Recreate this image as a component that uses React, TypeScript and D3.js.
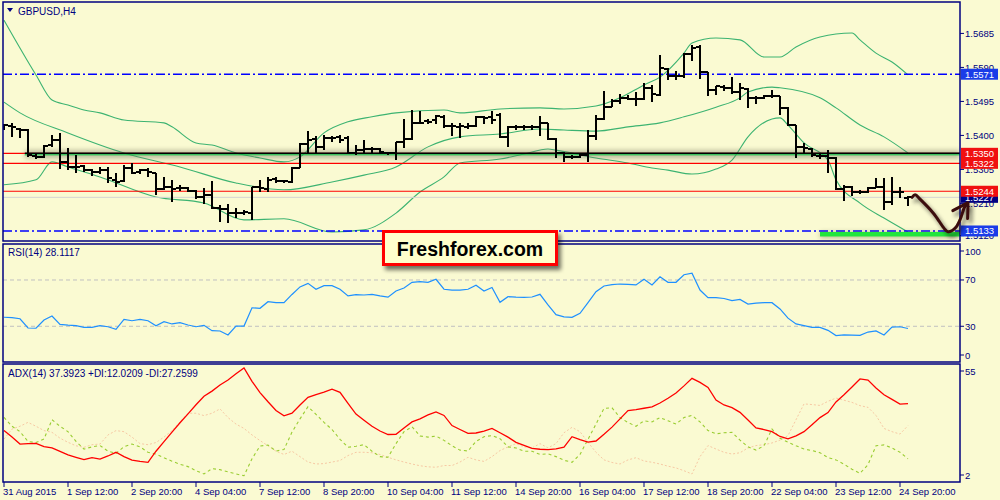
import React from "react";
import * as d3 from "d3";

// bar axis labels, one every 8 H4 bars
const dateLabels = [
  "31 Aug 2015", "1 Sep 12:00", "2 Sep 20:00", "4 Sep 04:00", "7 Sep 12:00",
  "8 Sep 20:00", "10 Sep 04:00", "11 Sep 12:00", "14 Sep 20:00", "16 Sep 04:00",
  "17 Sep 12:00", "18 Sep 20:00", "22 Sep 04:00", "23 Sep 12:00", "24 Sep 20:00",
];
const priceTicks = [1.5685, 1.559, 1.5495, 1.54, 1.5305, 1.521, 1.512];

// GBPUSD H4 bars
const opens = [
  1.5426, 1.5426, 1.5417, 1.5415, 1.5343, 1.5341, 1.5373, 1.5387, 1.5327, 1.5313,
  1.5315, 1.5302, 1.5299, 1.5303, 1.5276, 1.5273, 1.5308, 1.5299, 1.5302, 1.5294,
  1.5249, 1.5255, 1.5252, 1.5252, 1.5246, 1.5227, 1.5234, 1.5196, 1.5194, 1.5182,
  1.5184, 1.5184, 1.5255, 1.5249, 1.5277, 1.5273, 1.5271, 1.531, 1.5376, 1.5389,
  1.5369, 1.5392, 1.5395, 1.5392, 1.5352, 1.536, 1.5362, 1.5362, 1.5352, 1.5351,
  1.5383, 1.539, 1.5434, 1.5439, 1.5442, 1.5451, 1.5427, 1.5423, 1.5423, 1.5425,
  1.5451, 1.5451, 1.5458, 1.5395, 1.5423, 1.5423, 1.5423, 1.5423, 1.5434, 1.539,
  1.5351, 1.5339, 1.5341, 1.5346, 1.5399, 1.5445, 1.5479, 1.5495, 1.5504, 1.5501,
  1.5501, 1.5532, 1.5513, 1.5585, 1.5565, 1.5567, 1.5628, 1.5648, 1.5576, 1.5526,
  1.5535, 1.5532, 1.552, 1.5529, 1.5504, 1.5504, 1.5509, 1.5509, 1.5476, 1.543,
  1.5369, 1.5362, 1.5343, 1.5343, 1.5337, 1.525, 1.5257, 1.5241, 1.5241, 1.5253,
  1.5257, 1.5213, 1.5243, 1.5225,
];
const highs = [
  1.5432, 1.5434, 1.542, 1.5417, 1.535, 1.5373, 1.5401, 1.5406, 1.5366, 1.5345,
  1.5317, 1.5305, 1.5313, 1.5313, 1.5294, 1.5317, 1.5324, 1.5306, 1.5308, 1.5295,
  1.5283, 1.5276, 1.5262, 1.5255, 1.5248, 1.5252, 1.5273, 1.5206, 1.5209, 1.5196,
  1.5192, 1.5257, 1.5276, 1.5283, 1.5283, 1.5276, 1.5311, 1.5378, 1.5411, 1.5397,
  1.5401, 1.5399, 1.5402, 1.5397, 1.5374, 1.5388, 1.5369, 1.5364, 1.5355, 1.5383,
  1.5445, 1.5472, 1.5467, 1.5445, 1.5458, 1.5458, 1.5434, 1.5434, 1.5434, 1.5455,
  1.5455, 1.5469, 1.5462, 1.5425, 1.543, 1.543, 1.543, 1.5455, 1.5436, 1.5392,
  1.5355, 1.5346, 1.535, 1.5416, 1.5458, 1.5525, 1.5501, 1.5516, 1.5513, 1.552,
  1.5546, 1.5541, 1.5625, 1.5588, 1.5579, 1.563, 1.5653, 1.5653, 1.5576, 1.5539,
  1.5541, 1.5563, 1.5546, 1.5532, 1.5509, 1.5513, 1.5527, 1.5511, 1.5479, 1.543,
  1.5378, 1.5364, 1.5352, 1.5358, 1.5339, 1.5262, 1.5259, 1.5248, 1.5257, 1.5281,
  1.5281, 1.5285, 1.5257, 1.5231,
];
const lows = [
  1.5415, 1.5395, 1.5392, 1.5341, 1.5333, 1.5336, 1.5369, 1.5305, 1.5302, 1.5294,
  1.5299, 1.5287, 1.5292, 1.5266, 1.5257, 1.5271, 1.5292, 1.5292, 1.5283, 1.5234,
  1.5248, 1.5215, 1.5246, 1.5243, 1.5222, 1.5209, 1.5194, 1.5159, 1.5155, 1.5168,
  1.5178, 1.5164, 1.5243, 1.5243, 1.5266, 1.5268, 1.5268, 1.5308, 1.5348, 1.5348,
  1.5359, 1.5383, 1.5378, 1.5349, 1.5346, 1.5349, 1.5352, 1.5349, 1.5346, 1.5332,
  1.5364, 1.5388, 1.5432, 1.5432, 1.5432, 1.542, 1.5399, 1.5392, 1.5418, 1.5423,
  1.5432, 1.5432, 1.5392, 1.5367, 1.5416, 1.5416, 1.5416, 1.5397, 1.5388, 1.5337,
  1.5325, 1.5334, 1.5337, 1.5325, 1.5388, 1.5444, 1.5479, 1.5488, 1.5499, 1.5483,
  1.5498, 1.5492, 1.5509, 1.5555, 1.5555, 1.556, 1.5609, 1.5557, 1.5511, 1.5513,
  1.5523, 1.5516, 1.5499, 1.5476, 1.5488, 1.5501, 1.5504, 1.5458, 1.5425, 1.5337,
  1.5352, 1.5339, 1.5334, 1.5295, 1.5248, 1.5216, 1.523, 1.5237, 1.5239, 1.5253,
  1.5192, 1.5206, 1.5225, 1.5203,
];
const closes = [
  1.5428, 1.5423, 1.5415, 1.5345, 1.5341, 1.5371, 1.5387, 1.5327, 1.5313, 1.5313,
  1.5303, 1.5299, 1.5302, 1.528, 1.5271, 1.5308, 1.5296, 1.5302, 1.5299, 1.5249,
  1.5255, 1.5249, 1.5252, 1.5246, 1.5227, 1.5234, 1.5196, 1.5194, 1.5182, 1.5182,
  1.5185, 1.5255, 1.5252, 1.5276, 1.5273, 1.5273, 1.531, 1.5375, 1.5387, 1.5369,
  1.5392, 1.5392, 1.5388, 1.5352, 1.536, 1.5362, 1.5362, 1.5355, 1.5351, 1.5381,
  1.539, 1.5436, 1.5436, 1.5438, 1.5453, 1.5427, 1.5425, 1.5425, 1.5425, 1.5451,
  1.5448, 1.5444, 1.5395, 1.5423, 1.5423, 1.5423, 1.5423, 1.5434, 1.539, 1.5351,
  1.5339, 1.5341, 1.5346, 1.5399, 1.5445, 1.5479, 1.5495, 1.5504, 1.5501, 1.5501,
  1.5532, 1.5516, 1.5588, 1.5565, 1.5567, 1.5628, 1.5644, 1.5576, 1.5527, 1.5537,
  1.5532, 1.552, 1.5532, 1.5504, 1.5504, 1.5509, 1.5511, 1.5476, 1.543, 1.5367,
  1.5364, 1.5346, 1.5343, 1.5337, 1.525, 1.5257, 1.5243, 1.5241, 1.5253, 1.5257,
  1.5213, 1.5243, 1.5241, 1.5227,
];

// Bollinger bands, [bar, price]
const upperBand: [number, number][] = [
  [0, 1.5722], [4, 1.5569], [6, 1.5499], [8, 1.5485], [10, 1.5471], [12, 1.5463],
  [15, 1.5443], [20, 1.5435], [21, 1.5424], [24, 1.5379], [26, 1.5373], [29, 1.5351],
  [32, 1.5337], [35, 1.5326], [37, 1.534], [40, 1.5407], [43, 1.5438], [46, 1.5452],
  [49, 1.5463], [55, 1.5471], [57, 1.5463], [62, 1.5474], [67, 1.5477], [70, 1.5474],
  [74, 1.5482], [77, 1.5505], [80, 1.5541], [82, 1.5563], [85, 1.563], [86, 1.5658],
  [89, 1.5672], [92, 1.5667], [95, 1.5619], [97, 1.5619], [99, 1.5647], [102, 1.5675],
  [106, 1.5686], [107, 1.5667], [109, 1.563], [111, 1.5605], [113, 1.5569],
];
const midBand: [number, number][] = [
  [0, 1.5493], [2, 1.5463], [8, 1.5407], [15, 1.5351], [22, 1.5312], [29, 1.5267],
  [35, 1.5248], [41, 1.527], [45, 1.5289], [49, 1.5312], [53, 1.5368], [57, 1.5396],
  [62, 1.5404], [67, 1.5418], [70, 1.5415], [74, 1.5412], [78, 1.5424], [82, 1.5435],
  [85, 1.5452], [89, 1.5479], [92, 1.5505], [93, 1.5521], [96, 1.5535], [97, 1.5533],
  [102, 1.5505], [104, 1.5477], [107, 1.5429], [110, 1.5396], [113, 1.5351],
];
const lowBand: [number, number][] = [
  [0, 1.5262], [4, 1.5276], [6, 1.5326], [8, 1.5312], [12, 1.5284], [19, 1.5228],
  [25, 1.5211], [30, 1.5164], [35, 1.5167], [41, 1.513], [45, 1.5136], [49, 1.5183],
  [52, 1.5242], [55, 1.5284], [57, 1.5323], [62, 1.5334], [65, 1.5348], [68, 1.5362],
  [69, 1.5359], [74, 1.5337], [78, 1.5323], [81, 1.5309], [83, 1.5303], [86, 1.5292],
  [89, 1.5306], [91, 1.5331], [93, 1.5396], [96, 1.5446], [97, 1.5449], [98, 1.5429],
  [100, 1.5379], [103, 1.5331], [104, 1.5276], [107, 1.5211], [110, 1.5169], [113, 1.513],
];

const rsi = [
  37.8, 37.5, 36.5, 28.5, 28.3, 35.4, 38.9, 31.7, 31.0, 30.5,
  29.1, 29.1, 30.5, 29.6, 27.4, 36.0, 34.8, 36.0, 34.8, 30.5,
  34.0, 32.0, 33.1, 31.1, 29.6, 30.8, 26.2, 25.9, 22.5, 30.2,
  30.2, 46.0, 45.5, 51.2, 50.4, 50.4, 57.5, 64.0, 67.1, 61.9,
  65.1, 65.1, 62.0, 56.2, 57.3, 57.0, 57.6, 56.2, 55.2, 60.5,
  63.0, 68.0, 68.5, 68.0, 70.6, 62.0, 61.3, 61.3, 62.0, 65.5,
  60.5, 63.5, 50.7, 55.6, 55.2, 55.0, 55.3, 57.6, 48.4, 40.0,
  38.2, 37.7, 41.2, 50.4, 59.9, 64.8, 66.0, 66.5, 66.2, 65.7,
  70.6, 65.7, 72.8, 68.0, 68.0, 74.5, 75.8, 61.3, 54.7, 54.7,
  54.0, 52.1, 53.2, 49.2, 50.0, 50.4, 50.4, 45.0, 37.0, 32.0,
  30.5, 29.1, 29.1, 26.5, 22.0, 22.5, 22.3, 22.2, 25.0, 26.0,
  22.5, 29.3, 29.6, 28.1,
];

const adx = [
  25.0, 22.0, 18.8, 19.0, 19.1, 17.6, 17.0, 15.4, 13.8, 12.7,
  11.6, 12.5, 11.9, 13.3, 15.0, 13.0, 11.4, 10.8, 10.4, 15.5,
  19.9, 24.3, 28.6, 32.7, 36.9, 40.8, 43.2, 46.0, 48.3, 51.2,
  53.9, 47.7, 42.5, 38.3, 34.3, 31.8, 33.0, 36.8, 40.3, 41.6,
  42.7, 44.1, 42.6, 37.5, 32.6, 29.8, 27.0, 24.8, 23.2, 23.3,
  26.2, 29.0, 30.4, 32.2, 33.6, 32.0, 27.3, 25.5, 23.7, 23.9,
  24.8, 26.0, 24.0, 22.0, 19.6, 18.2, 16.8, 16.4, 16.2, 16.6,
  17.4, 22.2, 20.8, 19.7, 20.2, 23.3, 26.6, 30.4, 34.2, 34.7,
  35.3, 35.9, 37.7, 39.9, 42.3, 45.6, 49.1, 47.2, 44.9, 39.1,
  36.8, 35.6, 33.4, 29.9, 26.2, 25.5, 24.5, 22.3, 21.2, 22.6,
  24.5, 27.7, 31.0, 33.3, 38.2, 41.5, 45.1, 48.8, 48.3, 44.6,
  41.5, 39.4, 37.2, 37.4,
];
const plusDI = [
  31.1, 27.0, 24.5, 20.0, 19.5, 21.1, 30.0, 27.0, 24.5, 20.0,
  16.5, 17.5, 18.1, 15.5, 14.5, 17.6, 18.8, 17.5, 15.0, 14.2,
  12.5, 10.9, 9.5, 8.4, 6.5, 5.0, 7.5, 7.0, 6.0, 5.0,
  4.2, 12.0, 17.9, 18.3, 15.6, 16.3, 24.3, 30.4, 36.0, 32.5,
  28.8, 25.5, 21.0, 17.3, 17.8, 18.5, 15.5, 13.0, 12.7, 19.0,
  24.5, 26.8, 22.5, 22.0, 22.5, 20.5, 18.0, 16.0, 15.6, 20.0,
  22.2, 22.7, 21.3, 17.5, 17.0, 15.5, 15.5, 14.0, 14.3, 13.0,
  11.3, 10.4, 14.0, 21.0, 28.0, 35.2, 35.5, 31.0, 28.7, 27.0,
  29.5, 29.0, 31.0, 29.5, 28.0, 31.0, 32.0, 29.0, 25.0, 23.5,
  24.0, 24.2, 20.6, 17.5, 16.0, 18.0, 25.7, 21.5, 19.6, 18.0,
  16.5, 15.8, 14.8, 12.6, 11.5, 9.5, 7.2, 5.3, 9.3, 18.0,
  18.4, 17.0, 15.0, 12.0,
];
const minusDI = [
  21.1, 25.7, 27.0, 28.8, 27.0, 25.0, 24.2, 21.5, 19.6, 18.0,
  17.3, 18.5, 18.8, 23.0, 25.0, 24.5, 22.0, 19.0, 18.5, 19.5,
  22.0, 25.0, 29.0, 33.0, 33.0, 31.9, 33.0, 35.0, 31.0, 28.0,
  26.0, 23.0, 20.4, 18.0, 15.5, 14.0, 15.5, 13.0, 10.5, 9.6,
  9.8, 10.5, 11.2, 13.5, 15.0, 15.0, 14.8, 14.0, 12.7, 11.5,
  10.5, 9.6, 8.8, 8.3, 8.1, 8.9, 8.9, 10.5, 12.7, 11.5,
  10.8, 13.0, 15.8, 17.5, 19.0, 17.5, 17.0, 19.0, 17.0, 19.0,
  24.0, 26.5, 24.5, 19.6, 15.0, 11.5, 10.3, 9.6, 11.5, 12.5,
  11.0, 10.4, 9.6, 8.6, 7.8, 6.5, 5.0, 13.0, 18.1, 16.5,
  15.0, 14.2, 14.8, 17.0, 18.1, 18.5, 19.3, 20.6, 22.7, 30.0,
  37.3, 37.0, 36.6, 38.5, 40.0, 39.0, 38.0, 36.5, 35.7, 32.0,
  26.0, 24.5, 23.4, 27.3,
];

// horizontal levels drawn on the chart
const redLevels = [1.535, 1.5322, 1.5244];
const blueLevels = [1.5571, 1.5133];
const zoneLevel = 1.535;
const bidPrice = 1.5227;
const targetLevel = 1.5133;
const redTags = [1.535, 1.5322, 1.5244];
const blueTags = [1.5571, 1.5133];

// hand drawn forecast arrow, [bar, price]
const arrowBody: [number, number][] = [
  [113.5, 1.5227], [113.9, 1.5234], [114.5, 1.5222], [116.2, 1.5182], [117.6, 1.5138],
  [118.0, 1.5131], [118.9, 1.5141], [119.5, 1.5164], [120.1, 1.5201], [120.4, 1.5208],
];
const arrowHead: [number, number][] = [[118.6, 1.519], [120.5, 1.5212], [120.45, 1.5168]];

const LEFT = 3;
const RIGHT = 960;
const mainP = { top: 2, bottom: 241 };
const rsiP = { top: 244, bottom: 362 };
const adxP = { top: 364, bottom: 482 };

const NAVY = "#000080";
const FONT = "'Liberation Sans', Arial, sans-serif";

export default function App() {
  const x = d3.scaleLinear().domain([0, 113]).range([4, 908]);
  const yP = d3.scaleLinear().domain([1.5105, 1.577]).range([241, 3]);
  const yR = d3.scaleLinear().domain([0, 100]).range([361, 245.25]);
  const yA = d3.scaleLinear().domain([2, 55]).range([480.5, 365.5]);

  const band = d3
    .line<[number, number]>()
    .x((d) => x(d[0]))
    .y((d) => yP(d[1]))
    .curve(d3.curveMonotoneX);
  const arrowLine = d3
    .line<[number, number]>()
    .x((d) => x(d[0]))
    .y((d) => yP(d[1]))
    .curve(d3.curveCatmullRom);
  const headLine = d3
    .line<[number, number]>()
    .x((d) => x(d[0]))
    .y((d) => yP(d[1]));
  const rsiLine = d3
    .line<number>()
    .x((_, i) => x(i))
    .y((d) => yR(d));
  const adxLine = (vals: number[]) =>
    d3
      .line<number>()
      .x((_, i) => x(i))
      .y((d) => yA(d))(vals) as string;

  const clampLabel = (y: number, top: number, bottom: number) =>
    Math.min(Math.max(y, top + 7), bottom - 7);

  const tag = (v: number, fill: string, key: string) => (
    <g key={key}>
      <rect x={961} y={yP(v) - 5.5} width={37} height={11} fill={fill} />
      <text x={965} y={yP(v)} dominantBaseline="central" fontSize={9.5} fill="#ffffff">
        {v.toFixed(4)}
      </text>
    </g>
  );

  const zoneX = x(2.6);

  return (
    <svg
      width={1000}
      height={500}
      style={{ position: "absolute", left: 0, top: 0, display: "block" }}
      fontFamily={FONT}
    >
      <defs>
        <clipPath id="mainClip">
          <rect x={LEFT} y={mainP.top} width={RIGHT - LEFT} height={mainP.bottom - mainP.top} />
        </clipPath>
        <clipPath id="rsiClip">
          <rect x={LEFT} y={rsiP.top} width={RIGHT - LEFT} height={rsiP.bottom - rsiP.top} />
        </clipPath>
        <clipPath id="adxClip">
          <rect x={LEFT} y={adxP.top} width={RIGHT - LEFT} height={adxP.bottom - adxP.top} />
        </clipPath>
        <filter id="soft" x="-10%" y="-200%" width="120%" height="500%">
          <feGaussianBlur stdDeviation="2.4" />
        </filter>
        <filter id="drop" x="-20%" y="-40%" width="150%" height="200%">
          <feGaussianBlur in="SourceAlpha" stdDeviation="2.2" />
          <feOffset dx="3" dy="4" result="b" />
          <feComponentTransfer>
            <feFuncA type="linear" slope="0.55" />
          </feComponentTransfer>
          <feMerge>
            <feMergeNode />
            <feMergeNode in="SourceGraphic" />
          </feMerge>
        </filter>
      </defs>

      <rect x={0} y={0} width={1000} height={500} fill="#fafad2" />

      {/* main price panel */}
      <g clipPath="url(#mainClip)">
        <path d={band(upperBand) as string} fill="none" stroke="#3cb371" strokeWidth={1.1} />
        <path d={band(midBand) as string} fill="none" stroke="#3cb371" strokeWidth={1.1} />
        <path d={band(lowBand) as string} fill="none" stroke="#3cb371" strokeWidth={1.1} />

        <line x1={LEFT} x2={RIGHT} y1={yP(bidPrice)} y2={yP(bidPrice)} stroke="#d3d3d3" strokeWidth={1} />
        {redLevels.map((v) => (
          <line key={v} x1={LEFT} x2={RIGHT} y1={yP(v)} y2={yP(v)} stroke="#ff0000" strokeWidth={1.2} />
        ))}
        {blueLevels.map((v) => (
          <line
            key={v}
            x1={LEFT}
            x2={RIGHT}
            y1={yP(v)}
            y2={yP(v)}
            stroke="#0000ff"
            strokeWidth={1.4}
            strokeDasharray="9,3,2,3"
          />
        ))}

        {/* support zone with its soft shadow */}
        <rect
          x={zoneX}
          y={yP(zoneLevel) - 3}
          width={RIGHT - zoneX}
          height={8}
          fill="#707058"
          opacity={0.45}
          filter="url(#soft)"
        />
        <line x1={zoneX} x2={RIGHT} y1={yP(zoneLevel)} y2={yP(zoneLevel)} stroke="#000000" strokeWidth={1.6} />
        <line x1={zoneX} x2={RIGHT} y1={yP(zoneLevel) + 1.5} y2={yP(zoneLevel) + 1.5} stroke="#00c040" strokeWidth={1} />

        {/* target zone */}
        <rect
          x={x(102)}
          y={yP(targetLevel) + 1.5}
          width={RIGHT - x(102)}
          height={5}
          fill="#555533"
          opacity={0.45}
          filter="url(#soft)"
        />
        <rect x={x(102)} y={yP(targetLevel) + 1} width={RIGHT - x(102)} height={4.5} fill="#22e63c" />

        {/* OHLC bars */}
        <g stroke="#000000" strokeWidth={2} shapeRendering="crispEdges">
          {closes.map((c, i) => {
            const cx = Math.round(x(i));
            return (
              <g key={i}>
                <line x1={cx} x2={cx} y1={yP(highs[i])} y2={yP(lows[i])} />
                <line x1={cx - 4} x2={cx} y1={Math.round(yP(opens[i]))} y2={Math.round(yP(opens[i]))} />
                <line x1={cx} x2={cx + 4} y1={Math.round(yP(c))} y2={Math.round(yP(c))} />
              </g>
            );
          })}
        </g>
      </g>

      {/* RSI panel */}
      <g clipPath="url(#rsiClip)">
        {[70, 30].map((v) => (
          <line key={v} x1={LEFT} x2={RIGHT} y1={yR(v)} y2={yR(v)} stroke="#c0c0c0" strokeDasharray="4,3" />
        ))}
        <path d={rsiLine(rsi) as string} fill="none" stroke="#1e90ff" strokeWidth={1.2} />
      </g>

      {/* ADX panel */}
      <g clipPath="url(#adxClip)">
        <path d={adxLine(minusDI)} fill="none" stroke="#f7c9a4" strokeWidth={1} strokeDasharray="2,2" />
        <path d={adxLine(plusDI)} fill="none" stroke="#9acd32" strokeWidth={1.1} strokeDasharray="3,3" />
        <path d={adxLine(adx)} fill="none" stroke="#ff0000" strokeWidth={1.3} />
      </g>

      {/* frames */}
      <g fill="none" stroke={NAVY} strokeWidth={1.5}>
        <rect x={LEFT} y={mainP.top} width={RIGHT - LEFT} height={mainP.bottom - mainP.top} />
        <rect x={LEFT} y={rsiP.top} width={RIGHT - LEFT} height={rsiP.bottom - rsiP.top} />
        <rect x={LEFT} y={adxP.top} width={RIGHT - LEFT} height={adxP.bottom - adxP.top} />
      </g>

      {/* titles */}
      <path d="M7,8 L13,8 L10,12 Z" fill={NAVY} />
      <text x={18} y={11} dominantBaseline="central" fontSize={10} fill={NAVY}>
        GBPUSD,H4
      </text>
      <text x={8} y={252.5} dominantBaseline="central" fontSize={10} fill={NAVY}>
        RSI(14) 28.1117
      </text>
      <text x={8} y={373} dominantBaseline="central" fontSize={10} fill={NAVY}>
        ADX(14) 37.3923 +DI:12.0209 -DI:27.2599
      </text>

      {/* price axis */}
      {priceTicks.map((v) => (
        <g key={v}>
          <line x1={RIGHT} x2={RIGHT + 4} y1={yP(v)} y2={yP(v)} stroke={NAVY} />
          <text x={965} y={yP(v)} dominantBaseline="central" fontSize={9.5} fill={NAVY}>
            {v.toFixed(4)}
          </text>
        </g>
      ))}
      {blueTags.map((v) => tag(v, "#1a3ce8", "b" + v))}
      {tag(bidPrice, "#000080", "bid")}
      {redTags.map((v) => tag(v, "#f01010", "r" + v))}

      {/* RSI axis */}
      {[100, 70, 30, 0].map((v) => {
        const ly = clampLabel(yR(v), rsiP.top, rsiP.bottom);
        return (
          <g key={v}>
            <line x1={RIGHT} x2={RIGHT + 4} y1={ly} y2={ly} stroke={NAVY} />
            <text x={965} y={ly} dominantBaseline="central" fontSize={9.5} fill={NAVY}>
              {v}
            </text>
          </g>
        );
      })}
      {/* ADX axis */}
      {[55, 2].map((v) => {
        const ly = clampLabel(yA(v), adxP.top, adxP.bottom);
        return (
          <g key={v}>
            <line x1={RIGHT} x2={RIGHT + 4} y1={ly} y2={ly} stroke={NAVY} />
            <text x={965} y={ly} dominantBaseline="central" fontSize={9.5} fill={NAVY}>
              {v}
            </text>
          </g>
        );
      })}

      {/* time axis */}
      {dateLabels.map((lab, k) => {
        const tx = x(k * 8);
        return (
          <g key={lab}>
            <line x1={tx} x2={tx} y1={adxP.bottom} y2={adxP.bottom + 5} stroke={NAVY} />
            <text x={tx - 1} y={491.5} dominantBaseline="central" fontSize={9.5} fill={NAVY}>
              {lab}
            </text>
          </g>
        );
      })}

      {/* forecast arrow */}
      <g filter="url(#drop)" fill="none" stroke="#3b0c0c" strokeWidth={3} strokeLinecap="round" strokeLinejoin="round">
        <path d={arrowLine(arrowBody) as string} />
        <path d={headLine(arrowHead) as string} />
      </g>

      {/* watermark */}
      <g filter="url(#drop)">
        <rect x={383.5} y={231.5} width={173} height={33} fill="#ffffcc" stroke="#ff0000" strokeWidth={3} />
      </g>
      <text
        x={470}
        y={249}
        textAnchor="middle"
        dominantBaseline="central"
        fontSize={19.5}
        fontWeight="bold"
        fill="#000000"
      >
        Freshforex.com
      </text>
    </svg>
  );
}
